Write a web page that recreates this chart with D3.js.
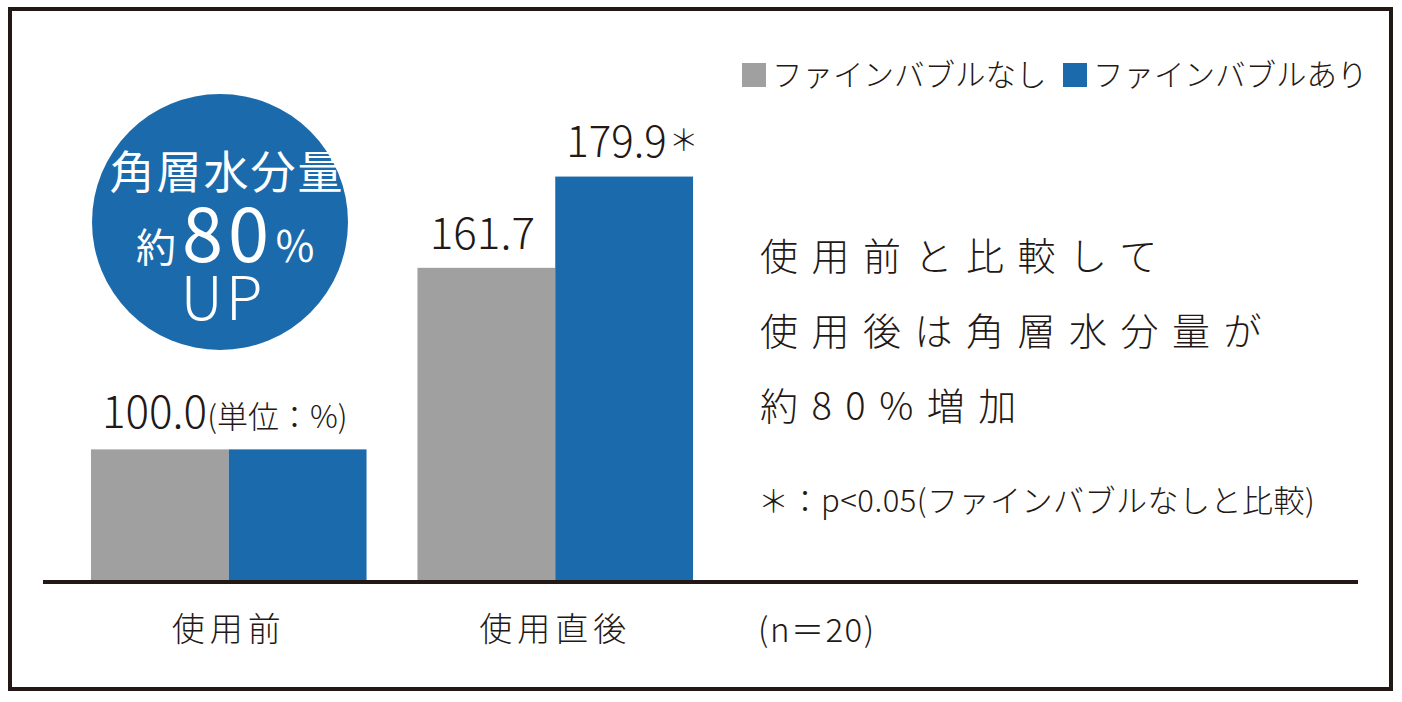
<!DOCTYPE html>
<html>
<head>
<meta charset="utf-8">
<script src="https://cdn.jsdelivr.net/npm/d3@7"></script>
<style>
  body { margin: 0; background: #fff; }
  text { font-family: "Noto Sans CJK JP", "Noto Sans", sans-serif; fill: #231815; font-weight: 300; }
</style>
</head>
<body>
<script>
// data
const categories = ["使用前", "使用直後"];
const series = ["ファインバブルなし", "ファインバブルあり"];
const withoutBubble = [100.0, 161.7];
const withBubble = [100.0, 179.9];
const valueLabels = [["100.0", "100.0"], ["161.7", "179.9"]];
const colours = ["#a0a0a0", "#1b6aab"];
const noteLines = ["使用前と比較して", "使用後は角層水分量が", "約80%増加"];

const width = 1402, height = 702;
const baseY = 581;

const svg = d3.select("body").append("svg")
    .attr("width", width)
    .attr("height", height);

// outer frame
svg.append("rect")
    .attr("x", 10).attr("y", 9)
    .attr("width", 1381).attr("height", 680)
    .attr("fill", "none")
    .attr("stroke", "#231815")
    .attr("stroke-width", 4);

// scales
const x0 = d3.scaleBand()
    .domain(categories)
    .range([65.5, 718.5])
    .paddingInner(0.156)
    .paddingOuter(0.078);

const x1 = d3.scaleBand()
    .domain(series)
    .range([0, x0.bandwidth()]);

// the chart's bars grow faster than linear, so map through an exponential
const k = 0.01405;
const yScale = d3.scaleLinear()
    .domain([0, Math.exp(k * 180)])
    .range([baseY, baseY - 405]);
const y = function(v) { return yScale(Math.exp(k * v)); };

const rows = categories.map(function(c, i) {
    return { cat: c, values: [withoutBubble[i], withBubble[i]] };
});

// bars
const group = svg.selectAll(".grp")
    .data(rows)
    .enter().append("g")
    .attr("class", "grp")
    .attr("transform", function(d) { return "translate(" + x0(d.cat) + ",0)"; });

group.selectAll("rect")
    .data(function(d) { return d.values.map(function(v, j) { return { s: series[j], v: v, j: j }; }); })
    .enter().append("rect")
    .attr("x", function(d) { return x1(d.s); })
    .attr("y", function(d) { return y(d.v); })
    .attr("width", x1.bandwidth())
    .attr("height", function(d) { return baseY - y(d.v); })
    .attr("fill", function(d) { return colours[d.j]; });

// baseline
svg.append("line")
    .attr("x1", 43).attr("x2", 1358)
    .attr("y1", baseY + 1).attr("y2", baseY + 1)
    .attr("stroke", "#231815")
    .attr("stroke-width", 4);

// category labels
const xAxis = d3.axisBottom(x0).tickSize(0).tickPadding(0);
const axisG = svg.append("g")
    .attr("transform", "translate(0," + (baseY + 60) + ")")
    .call(xAxis);
axisG.select(".domain").remove();
axisG.selectAll("text")
    .attr("font-size", 33)
    .attr("letter-spacing", 5)
    .attr("dy", 0)
    .style("font-family", "'Noto Sans CJK JP', sans-serif")
    .style("font-weight", 300)
    .attr("fill", "#231815");

svg.append("text")
    .attr("x", 758).attr("y", baseY + 61)
    .attr("font-size", 33)
    .attr("letter-spacing", 1.5)
    .text("(n＝20)");

// value labels
// first group: one label over both bars with the unit
const first = svg.append("text")
    .attr("x", x0(categories[0]) + 11)
    .attr("y", y(withoutBubble[0]) - 21)
    .attr("font-size", 44);
first.append("tspan").text(valueLabels[0][0]);
first.append("tspan").attr("font-size", 31).attr("dx", 0).text("(単位：%)");

// second group: one label per bar
svg.append("text")
    .attr("x", x0(categories[1]) + x1(series[0]) + x1.bandwidth() / 2 - 4)
    .attr("y", y(withoutBubble[1]) - 19)
    .attr("text-anchor", "middle")
    .attr("font-size", 44)
    .text(valueLabels[1][0]);

const star = svg.append("text")
    .attr("x", x0(categories[1]) + x1(series[1]) + 11)
    .attr("y", y(withBubble[1]) - 20)
    .attr("font-size", 42);
star.append("tspan").text(valueLabels[1][1]);
star.append("tspan").attr("dx", 2).attr("font-size", 30).attr("dy", -6).text("＊");

// legend
const legend = svg.append("g")
    .attr("transform", "translate(742,63)");
const item = legend.selectAll("g")
    .data(series)
    .enter().append("g")
    .attr("transform", function(d, i) { return "translate(" + (i * 321) + ",0)"; });
item.append("rect")
    .attr("width", 24).attr("height", 24)
    .attr("fill", function(d, i) { return colours[i]; });
item.append("text")
    .attr("x", 30).attr("y", 23)
    .attr("font-size", 30.5)
    .text(function(d) { return d; });

// highlight circle
const badge = svg.append("g").attr("transform", "translate(220,222)");
badge.append("circle").attr("r", 128).attr("fill", colours[1]);
badge.append("text")
    .attr("x", 7).attr("y", -33).attr("text-anchor", "middle")
    .attr("font-size", 45).attr("letter-spacing", 2)
    .style("fill", "#fff").style("font-weight", 400)
    .text("角層水分量");
const pct = badge.append("text")
    .attr("x", 6).attr("y", 40).attr("text-anchor", "middle")
    .style("fill", "#fff").style("font-weight", 400);
pct.append("tspan").attr("font-size", 40).text("約");
pct.append("tspan").attr("font-size", 74).attr("dx", 6).attr("letter-spacing", 5).text("80");
pct.append("tspan").attr("font-size", 42).attr("dx", 0).text("％");
badge.append("text")
    .attr("x", 3).attr("y", 98).attr("text-anchor", "middle")
    .attr("font-size", 60).attr("letter-spacing", 3)
    .style("fill", "#fff").style("font-weight", 300)
    .text("UP");

// right-side note
svg.selectAll(".note")
    .data(noteLines)
    .enter().append("text")
    .attr("class", "note")
    .attr("x", 760)
    .attr("y", function(d, i) { return 270 + i * 75; })
    .attr("font-size", 38)
    .attr("letter-spacing", 13.5)
    .text(function(d) { return d; });

svg.append("text")
    .attr("x", 758).attr("y", 512)
    .attr("font-size", 31)
    .attr("letter-spacing", 0.5)
    .text("＊：p<0.05(ファインバブルなしと比較)");
</script>
</body>
</html>
